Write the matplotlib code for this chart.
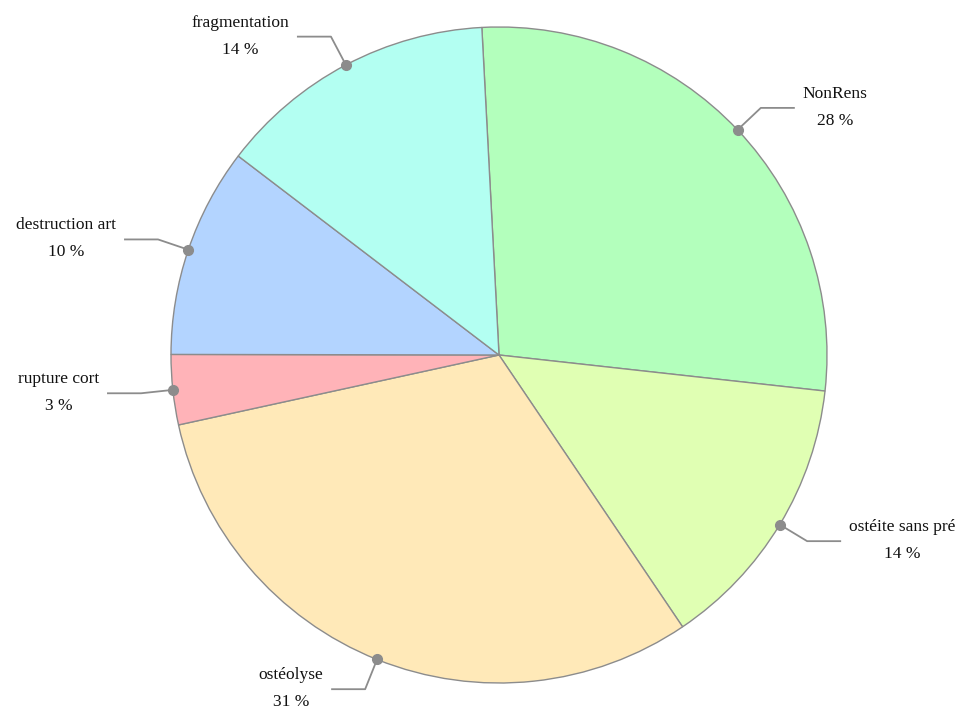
import numpy as np
import matplotlib
matplotlib.use("Agg")
import matplotlib.pyplot as plt

# counts per category, drawn clockwise from the top
labels = ["NonRens", "ostéite sans pré", "ostéolyse", "rupture cort",
          "destruction art", "fragmentation"]
counts = [8, 4, 9, 1, 3, 4]
colors = ["#b3ffbc", "#e0ffb3", "#ffe9b8", "#ffb3b8", "#b3d4ff", "#b3fff2"]

W, H = 963, 709
cx, cy, R = 499, H - 355, 328
start = 93.0

fig = plt.figure(figsize=(W / 100, H / 100), dpi=100)
ax = fig.add_axes([0, 0, 1, 1])

ax.pie(counts, colors=colors, startangle=start, counterclock=False,
       center=(cx, cy), radius=R, frame=True,
       wedgeprops=dict(edgecolor="#8c8c8c", linewidth=1.0))
ax.set_xlim(0, W)
ax.set_ylim(0, H)
ax.axis("off")

total = sum(counts)
font = dict(family=["Liberation Serif", "DejaVu Serif"], fontsize=12.5,
            color="#111111")
acc = 0
for name, n in zip(labels, counts):
    mid = np.deg2rad(start - (acc + n / 2) / total * 360)
    acc += n
    x0, y0 = cx + R * np.cos(mid), cy + R * np.sin(mid)
    x1, y1 = cx + (R + 32) * np.cos(mid), cy + (R + 32) * np.sin(mid)
    side = 1 if np.cos(mid) >= 0 else -1
    x2 = x1 + side * 34
    ax.plot([x0, x1, x2], [y0, y1, y1], color="#8c8c8c", lw=1.3,
            solid_capstyle="butt")
    ax.plot(x0, y0, "o", color="#8c8c8c", ms=7)
    pct = f"{round(100 * n / total)} %"
    tx = x2 + side * 8
    ha = "left" if side > 0 else "right"
    # measure the name, then centre both lines on it
    block = ax.text(tx, y1, name, ha=ha, va="center", alpha=0, **font)
    fig.canvas.draw()
    bb = block.get_window_extent()
    xc = (bb.x0 + bb.x1) / 2
    ax.text(xc, y1 + 14, name, ha="center", va="center", **font)
    ax.text(xc, y1 - 13, pct, ha="center", va="center", **font)

fig.savefig("out.png", dpi=100, facecolor="white")
